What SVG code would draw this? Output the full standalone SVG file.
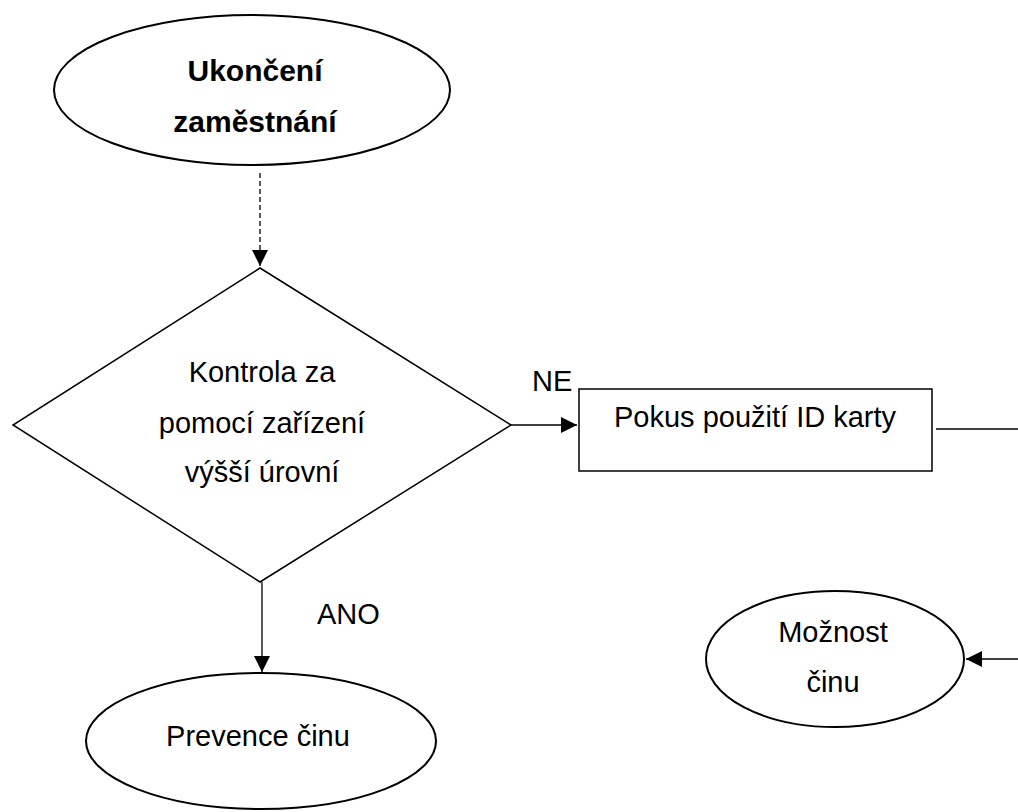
<svg xmlns="http://www.w3.org/2000/svg" width="1018" height="812" viewBox="0 0 1018 812">
  <style>
    .shape { fill: #ffffff; stroke: #000000; }
    .oval { stroke-width: 2; }
    .thin { stroke-width: 1.5; }
    .line { fill: none; stroke: #000000; stroke-width: 1.3; }
    .dash { stroke-dasharray: 5 3; }
    text { font-family: "Liberation Sans", Arial, sans-serif; font-size: 29px; fill: #000000; }
    .bold { font-weight: bold; font-size: 30px; }
    .mid { text-anchor: middle; }
  </style>
  <defs>
    <marker id="arrow" viewBox="0 0 16 16" refX="16" refY="8" markerWidth="16" markerHeight="16" markerUnits="userSpaceOnUse" orient="auto">
      <path d="M0,0 L16,8 L0,16 Z" fill="#000000"/>
    </marker>
  </defs>

  <rect width="1018" height="812" fill="#ffffff"/>

  <!-- connectors -->
  <g id="connectors">
    <line class="line dash" x1="260" y1="173" x2="260" y2="266" marker-end="url(#arrow)"/>
    <line class="line" x1="511" y1="425" x2="577" y2="425" marker-end="url(#arrow)"/>
    <line class="line" x1="936" y1="429" x2="1018" y2="429"/>
    <line class="line" x1="262" y1="582" x2="262" y2="672" marker-end="url(#arrow)"/>
    <line class="line" x1="1018" y1="659" x2="966" y2="659" marker-end="url(#arrow)"/>
    <text x="532" y="391" font-size="27">NE</text>
    <text x="317" y="624" font-size="28">ANO</text>
  </g>

  <!-- start: end of employment -->
  <g id="node-start">
    <ellipse class="shape oval" cx="252" cy="90" rx="198" ry="75"/>
    <text class="bold mid" x="255" y="81">Ukončení</text>
    <text class="bold mid" x="255" y="132">zaměstnání</text>
  </g>

  <!-- decision: higher-level device check -->
  <g id="node-check">
    <polygon class="shape thin" points="260,268 511,425 260,582 13,425"/>
    <text class="mid" x="262" y="382">Kontrola za</text>
    <text class="mid" x="262" y="433">pomocí zařízení</text>
    <text class="mid" x="262" y="482">výšší úrovní</text>
  </g>

  <!-- process: ID card attempt -->
  <g id="node-card">
    <rect class="shape thin" x="579" y="389" width="353" height="82"/>
    <text class="mid" x="755" y="427">Pokus použití ID karty</text>
  </g>

  <!-- end: prevention -->
  <g id="node-prevention">
    <ellipse class="shape oval" cx="261" cy="741" rx="175" ry="68"/>
    <text class="mid" x="258" y="746">Prevence činu</text>
  </g>

  <!-- end: possibility -->
  <g id="node-possibility">
    <ellipse class="shape oval" cx="835" cy="659" rx="129" ry="68"/>
    <text class="mid" x="833" y="642">Možnost</text>
    <text class="mid" x="833" y="692">činu</text>
  </g>
</svg>
